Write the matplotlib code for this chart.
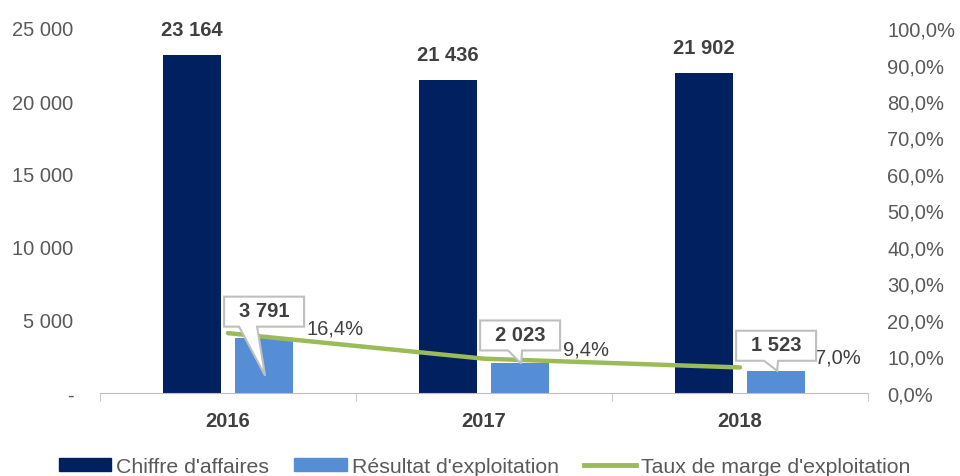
import matplotlib
matplotlib.use("Agg")
from matplotlib import pyplot as plt
from matplotlib.patches import Polygon
from matplotlib.lines import Line2D
from matplotlib.patches import Patch

years = ["2016", "2017", "2018"]
chiffre = [23164, 21436, 21902]
resultat = [3791, 2023, 1523]
taux = [16.4, 9.4, 7.0]
chiffre_labels = ["23 164", "21 436", "21 902"]
resultat_labels = ["3 791", "2 023", "1 523"]
taux_labels = ["16,4%", "9,4%", "7,0%"]
left_ticks = [0, 5000, 10000, 15000, 20000, 25000]
left_labels = ["-", "5 000", "10 000", "15 000", "20 000", "25 000"]

navy = "#002060"
blue = "#558ED5"
green = "#9BBB59"
grey = "#595959"

plt.rcParams['font.family'] = ['Liberation Sans', 'DejaVu Sans']


def main():
    fig = plt.figure(figsize=(9.6, 4.77), dpi=100)
    ax = fig.add_axes([100 / 960, 83 / 477, 768 / 960, 365 / 477])
    ax2 = ax.twinx()
    x = list(range(len(years)))
    w = 0.227
    off = 0.141
    fs = 14.5
    ax.bar([i - off for i in x], chiffre, w, color=navy, zorder=2)
    ax.bar([i + off for i in x], resultat, w, color=blue, zorder=2)
    ax.set_ylim(0, 25000)
    ax.set_xlim(-0.5, 2.5)
    ax.set_yticks(left_ticks)
    ax.set_yticklabels(left_labels)
    ax.set_xticks(x)
    ax.set_xticklabels(years, fontweight="bold")
    ax.set_xticks([-0.5, 0.5, 1.5, 2.5], minor=True)
    ax.tick_params(axis="x", which="major", length=0, pad=13, labelsize=fs, labelcolor="#404040")
    ax.tick_params(axis="x", which="minor", length=6, color="#BFBFBF")
    ax.tick_params(axis="y", length=0, pad=19, labelsize=fs, labelcolor=grey)
    for s in ["top", "right", "left"]:
        ax.spines[s].set_visible(False)
    ax.spines["bottom"].set_color("#BFBFBF")
    for s in ["top", "right", "left", "bottom"]:
        ax2.spines[s].set_visible(False)

    ax2.plot(x, taux, color=green, lw=3.2, zorder=3, solid_capstyle="round")
    ax2.set_ylim(0, 100)
    ax2.set_yticks(range(0, 101, 10))
    ax2.set_yticklabels([f"{v},0%" for v in range(0, 101, 10)])
    ax2.tick_params(axis="y", length=0, pad=14, labelsize=fs, labelcolor=grey)

    for i in x:
        ax.annotate(chiffre_labels[i], (i - off, chiffre[i]), xytext=(0, 11.5),
                    textcoords="offset points", ha="center", va="bottom",
                    fontsize=fs, fontweight="bold", color="#404040")

    # callouts for resultat
    fig.canvas.draw()
    box_dy = [26, 28, 25]
    tip_dy = [-38, 0, 0]
    tail = [(-25, -7), (-12, 2), (-12, 2)]
    for i in x:
        base = ax.transData.transform((i + off, resultat[i]))
        cx, cy = base[0], base[1] + box_dy[i]
        hw, hh = 40, 15
        tl, trr = tail[i]
        pts = [(cx - hw, cy - hh), (cx + tl, cy - hh), (base[0] + 1, base[1] + tip_dy[i]),
               (cx + trr, cy - hh), (cx + hw, cy - hh), (cx + hw, cy + hh),
               (cx - hw, cy + hh)]
        poly = Polygon(pts, closed=True, transform=None, facecolor="white",
                       edgecolor="#BFBFBF", lw=1.5, zorder=4)
        fig.patches.append(poly)
        fig.text(cx / 960, (cy + 1) / 477, resultat_labels[i],
                 ha="center", va="center", fontsize=fs, fontweight="bold",
                 color="#404040", zorder=5)

    pct_dx = [79, 79, 75]
    pct_dy = [5, 10, 10]
    for i in x:
        ax2.annotate(taux_labels[i], (i, taux[i]), xytext=(pct_dx[i], pct_dy[i]),
                     textcoords="offset pixels", ha="left", va="center",
                     fontsize=fs, color="#404040", zorder=6)

    handles = [Patch(color=navy), Patch(color=blue), Line2D([], [], color=green, lw=3.5)]
    fig.legend(handles, ["Chiffre d'affaires", "Résultat d'exploitation",
                         "Taux de marge d'exploitation"],
               loc="center", bbox_to_anchor=(0.505, 0.02), ncol=3, frameon=False,
               fontsize=15.3, labelcolor=grey, handlelength=2.46, handleheight=0.52,
               columnspacing=1.18, handletextpad=0.24, borderpad=0)
    fig.savefig("out.png", dpi=100)


if __name__ == '__main__':
    main()
